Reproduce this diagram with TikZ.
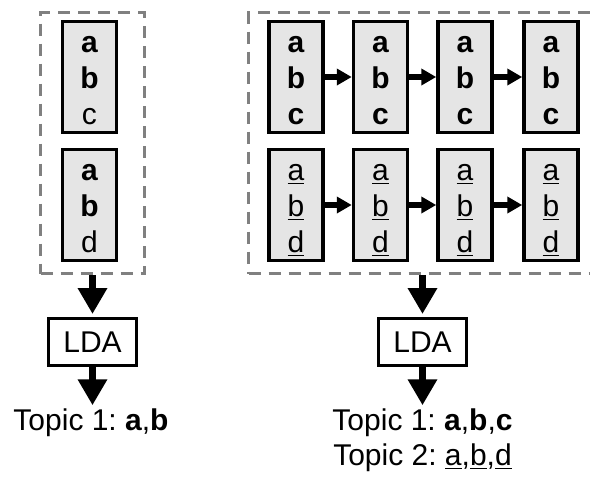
\documentclass[tikz,border=0pt]{standalone}
\usepackage{fontspec}
\setmainfont{Liberation Sans}
\usetikzlibrary{arrows.meta}
\frenchspacing

\begin{document}
\begin{tikzpicture}[x=0.5pt,y=-0.5pt,
        every node/.style={font=\fontsize{15pt}{18pt}\selectfont},
        doc/.style={draw,line width=1.75pt,fill=black!10,minimum width=27pt,minimum height=55.5pt,
            inner sep=0pt,align=center,text height=49.5pt,text depth=2.5pt},
        grp/.style={draw=black!50,line width=1.5pt,dash pattern=on 6pt off 4pt,minimum height=130.5pt},
        lda/.style={draw,line width=1.5pt,minimum width=44pt,minimum height=23.5pt,inner sep=0pt},
        big/.style={line width=3.6pt,-{Triangle[length=13pt,width=14pt]},shorten >=1.5pt},
        small/.style={line width=2.6pt,-{Triangle[length=7.5pt,width=8pt]}},
        topic/.style={anchor=base,inner sep=0pt,outer sep=0pt}]

            \useasboundingbox (0,0) rectangle (590,477);

            % dashed groups
            \node[grp,minimum width=52pt] (grpL) at (92.5,143) {};
            \node[grp,minimum width=175pt] (grpR) at (423.5,143) {};

            % left: two documents
            \node[doc] (dL1) at (89.5,77) {\textbf{a}\\\textbf{b}\\c};
            \node[doc] (dL2) at (89.5,205) {\textbf{a}\\\textbf{b}\\d};

            % right: two chains
            \node[doc] (dB1) at (296,77) {\textbf{a}\\\textbf{b}\\\textbf{c}};
            \node[doc] (dB2) at (380.5,77) {\textbf{a}\\\textbf{b}\\\textbf{c}};
            \node[doc] (dB3) at (465,77) {\textbf{a}\\\textbf{b}\\\textbf{c}};
            \node[doc] (dB4) at (551,77) {\textbf{a}\\\textbf{b}\\\textbf{c}};
            \node[doc] (dU1) at (296,205) {\underline{a}\\\underline{b}\\\underline{d}};
            \node[doc] (dU2) at (380.5,205) {\underline{a}\\\underline{b}\\\underline{d}};
            \node[doc] (dU3) at (465,205) {\underline{a}\\\underline{b}\\\underline{d}};
            \node[doc] (dU4) at (551,205) {\underline{a}\\\underline{b}\\\underline{d}};

            \draw[small] (dB1) -- (dB2);
            \draw[small] (dB2) -- (dB3);
            \draw[small] (dB3) -- (dB4);
            \draw[small] (dU1) -- (dU2);
            \draw[small] (dU2) -- (dU3);
            \draw[small] (dU3) -- (dU4);

            % LDA and topics
            \node[lda] (ldaL) at (92.5,342) {LDA};
            \node[lda] (ldaR) at (422.5,342) {LDA};
            \node[topic] (topL) at (91,430) {Topic 1: \textbf{a},\textbf{b}};
            \node[topic] (topR1) at (422.5,430) {Topic 1: \textbf{a},\textbf{b},\textbf{c}};
            \node[topic] (topR2) at (422.5,465) {Topic 2: \underline{a},\underline{b},\underline{d}};

            \draw[big] (grpL.south) -- (ldaL.north);
            \draw[big] (ldaL.south) -- (ldaL.south |- topL.north);
            \draw[big] (ldaR.north |- grpR.south) -- (ldaR.north);
            \draw[big] (ldaR.south) -- (topR1.north);
\end{tikzpicture}
\end{document}
